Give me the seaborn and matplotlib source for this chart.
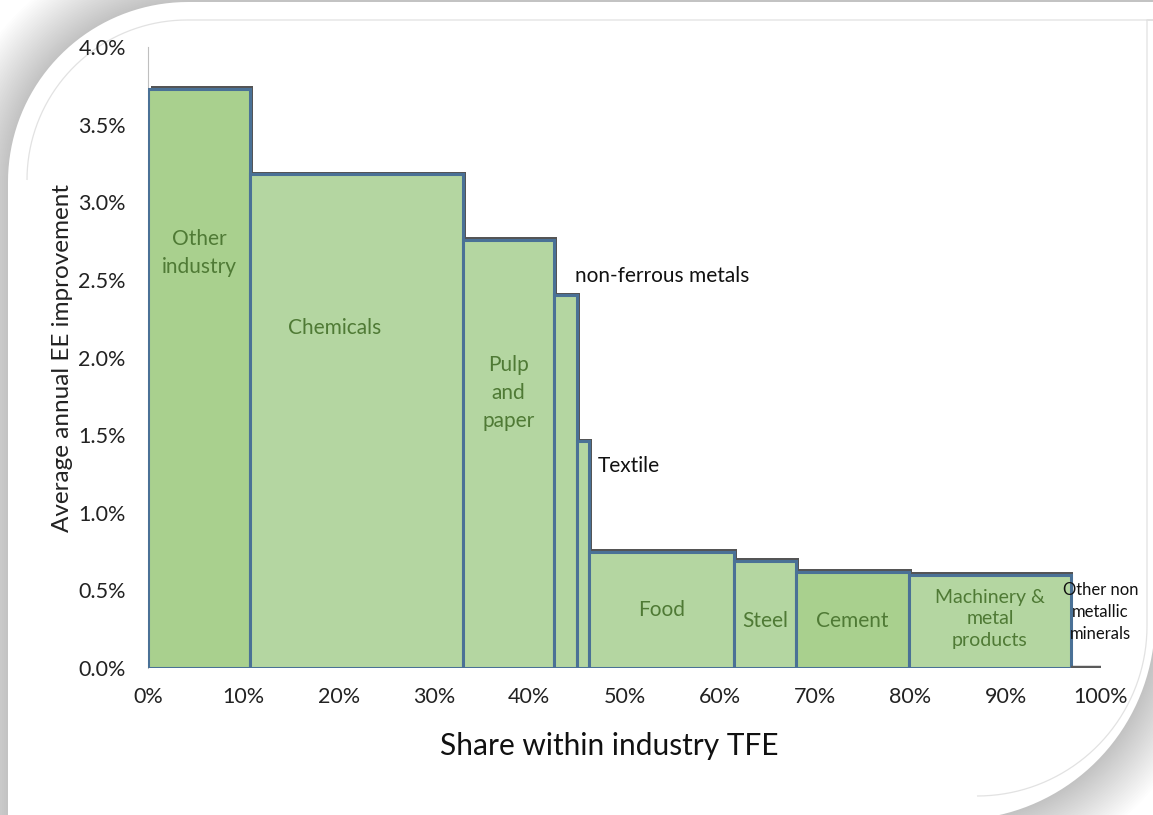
import numpy as np
import pandas as pd
import matplotlib
matplotlib.use("Agg")
import matplotlib.pyplot as plt
import matplotlib.patheffects as pe
from matplotlib.patches import Polygon
import seaborn as sns

# ---------------- data ----------------
sectors = ["Other industry", "Chemicals", "Pulp and paper", "non-ferrous metals",
           "Textile", "Food", "Steel", "Cement", "Machinery & metal products",
           "Other non metallic minerals"]
share_pct = [10.7, 22.4, 9.5, 2.4, 1.3, 15.2, 6.5, 11.9, 16.9, 3.2]        # % of industry TFE
ee_improvement = [3.73, 3.18, 2.76, 2.40, 1.46, 0.75, 0.69, 0.62, 0.60, 0.0]  # % per year
bar_labels = ["Other\nindustry", "Chemicals", "Pulp\nand\npaper", "non-ferrous metals",
              "Textile", "Food", "Steel", "Cement", "Machinery &\nmetal\nproducts",
              "Other non\nmetallic\nminerals"]
x_ticks = [0, 10, 20, 30, 40, 50, 60, 70, 80, 90, 100]
y_ticks = [0.0, 0.5, 1.0, 1.5, 2.0, 2.5, 3.0, 3.5, 4.0]

# ---------------- style ----------------
sns.set_theme(style="white")
plt.rcParams['font.family'] = ['Lato', 'DejaVu Sans']

W, H = 1153, 815
fig = plt.figure(figsize=(W / 100, H / 100), dpi=100)
fig.patch.set_facecolor("white")

# ---- decorative rounded card with soft shadow (pixel coords, top origin) ----
def card_points(L, T, R, B, r1, r2):
    pts = [(L, B + 200), (L, T + r1)]
    c1 = (L + r1, T + r1)
    for a in np.linspace(np.pi, 1.5 * np.pi, 40):
        pts.append((c1[0] + r1 * np.cos(a), c1[1] + r1 * np.sin(a)))
    pts += [(R + 200, T), (R, T), (R, B - r2)]
    c2 = (R - r2, B - r2)
    for a in np.linspace(0, 0.5 * np.pi, 40):
        pts.append((c2[0] + r2 * np.cos(a), c2[1] + r2 * np.sin(a)))
    pts.append((L, B))
    return [(x / 100, (H - y) / 100) for x, y in pts]

for g in range(60, 0, -2):
    fig.add_artist(Polygon(card_points(8 - g, 2 - g, 1155 + g, 820 + g, 180 + g, 200 + g),
                           closed=True, facecolor="#808080", edgecolor="none",
                           alpha=0.016, transform=fig.dpi_scale_trans, zorder=-3))
fig.add_artist(Polygon(card_points(8, 2, 1155, 820, 180, 200), closed=True,
                       facecolor="white", edgecolor="none",
                       transform=fig.dpi_scale_trans, zorder=-2))
inner = card_points(27, 20, 1147, 796, 160, 170)
fig.add_artist(Polygon(inner[1:-1], closed=False, fill=False, edgecolor="#E2E2E2",
                       linewidth=0.9, transform=fig.dpi_scale_trans, zorder=-1))

# ---------------- axes ----------------
ax = fig.add_axes([148 / W, 1 - 668 / H, 953 / W, 621 / H])
ax.set_facecolor("none")

edges = np.concatenate([[0.0], np.cumsum(share_pct)])
mids = (edges[:-1] + edges[1:]) / 2
df = pd.DataFrame({"sector": sectors, "mid": mids, "improvement": ee_improvement})

sns.histplot(data=df, x="mid", weights="improvement", bins=list(edges), stat="count",
             ax=ax, element="bars", fill=True)

dark_fill, light_fill = "#A9D08E", "#B4D6A1"
fills = [dark_fill, light_fill, light_fill, light_fill, light_fill,
         light_fill, light_fill, dark_fill, light_fill, light_fill]
shadow = [pe.SimplePatchShadow(offset=(2, 2), shadow_rgbFace="#555555", alpha=1.0), pe.Normal()]
for i, p in enumerate(ax.patches):
    p.set_facecolor(fills[i])
    p.set_alpha(1)
    if ee_improvement[i] > 0:
        p.set_edgecolor("#4A7196")
        p.set_linewidth(2.2)
    else:
        p.set_edgecolor("#5A5A5A")
        p.set_linewidth(3.2)
    p.set_path_effects(shadow)

ax.set_xlim(0, 100)
ax.set_ylim(0, 4.0)
ax.set_xticks(x_ticks)
ax.set_xticklabels([f"{t}%" for t in x_ticks])
ax.set_yticks(y_ticks)
ax.set_yticklabels([f"{t:.1f}%" for t in y_ticks])
ax.tick_params(axis="both", length=0, labelsize=15.5, labelcolor="#222222")
ax.tick_params(axis="y", pad=16)
ax.tick_params(axis="x", pad=14)
for s in ["top", "right", "bottom"]:
    ax.spines[s].set_visible(False)
ax.spines["left"].set_color("#BFBFBF")
ax.spines["left"].set_linewidth(0.8)
ax.spines["left"].set_zorder(0.5)

ax.set_ylabel("Average annual EE improvement", fontsize=17.5, color="#222222", labelpad=4)
ax.set_xlabel("Share within industry TFE", fontsize=21.5, color="#111111")
ax.xaxis.set_label_coords(0.484, -0.103)
ax.xaxis.label.set_va("top")

# ---------------- bar labels ----------------
inside = "#4F7A35"
label_style = [
    dict(x=mids[0], y=2.67, ha="center", color=inside, size=15, ls=1.5),
    dict(x=19.6, y=2.19, ha="center", color=inside, size=15, ls=1.5),
    dict(x=mids[2], y=1.77, ha="center", color=inside, size=15, ls=1.5),
    dict(x=44.8, y=2.525, ha="left", color="#111111", size=15, ls=1.3),
    dict(x=47.2, y=1.30, ha="left", color="#111111", size=15, ls=1.3),
    dict(x=mids[5], y=0.374, ha="center", color=inside, size=15, ls=1.3),
    dict(x=mids[6], y=0.303, ha="center", color=inside, size=15, ls=1.3),
    dict(x=mids[7], y=0.303, ha="center", color=inside, size=15, ls=1.3),
    dict(x=mids[8], y=0.316, ha="center", color=inside, size=14, ls=1.35),
    dict(x=96.0, y=0.36, ha="left", color="#111111", size=12, ls=1.45),
]
for lab, st in zip(bar_labels, label_style):
    ax.text(st["x"], st["y"], lab, ha=st["ha"], va="center", color=st["color"],
            fontsize=st["size"], linespacing=st["ls"], multialignment="center", zorder=5)

fig.savefig("out.png", dpi=100)
